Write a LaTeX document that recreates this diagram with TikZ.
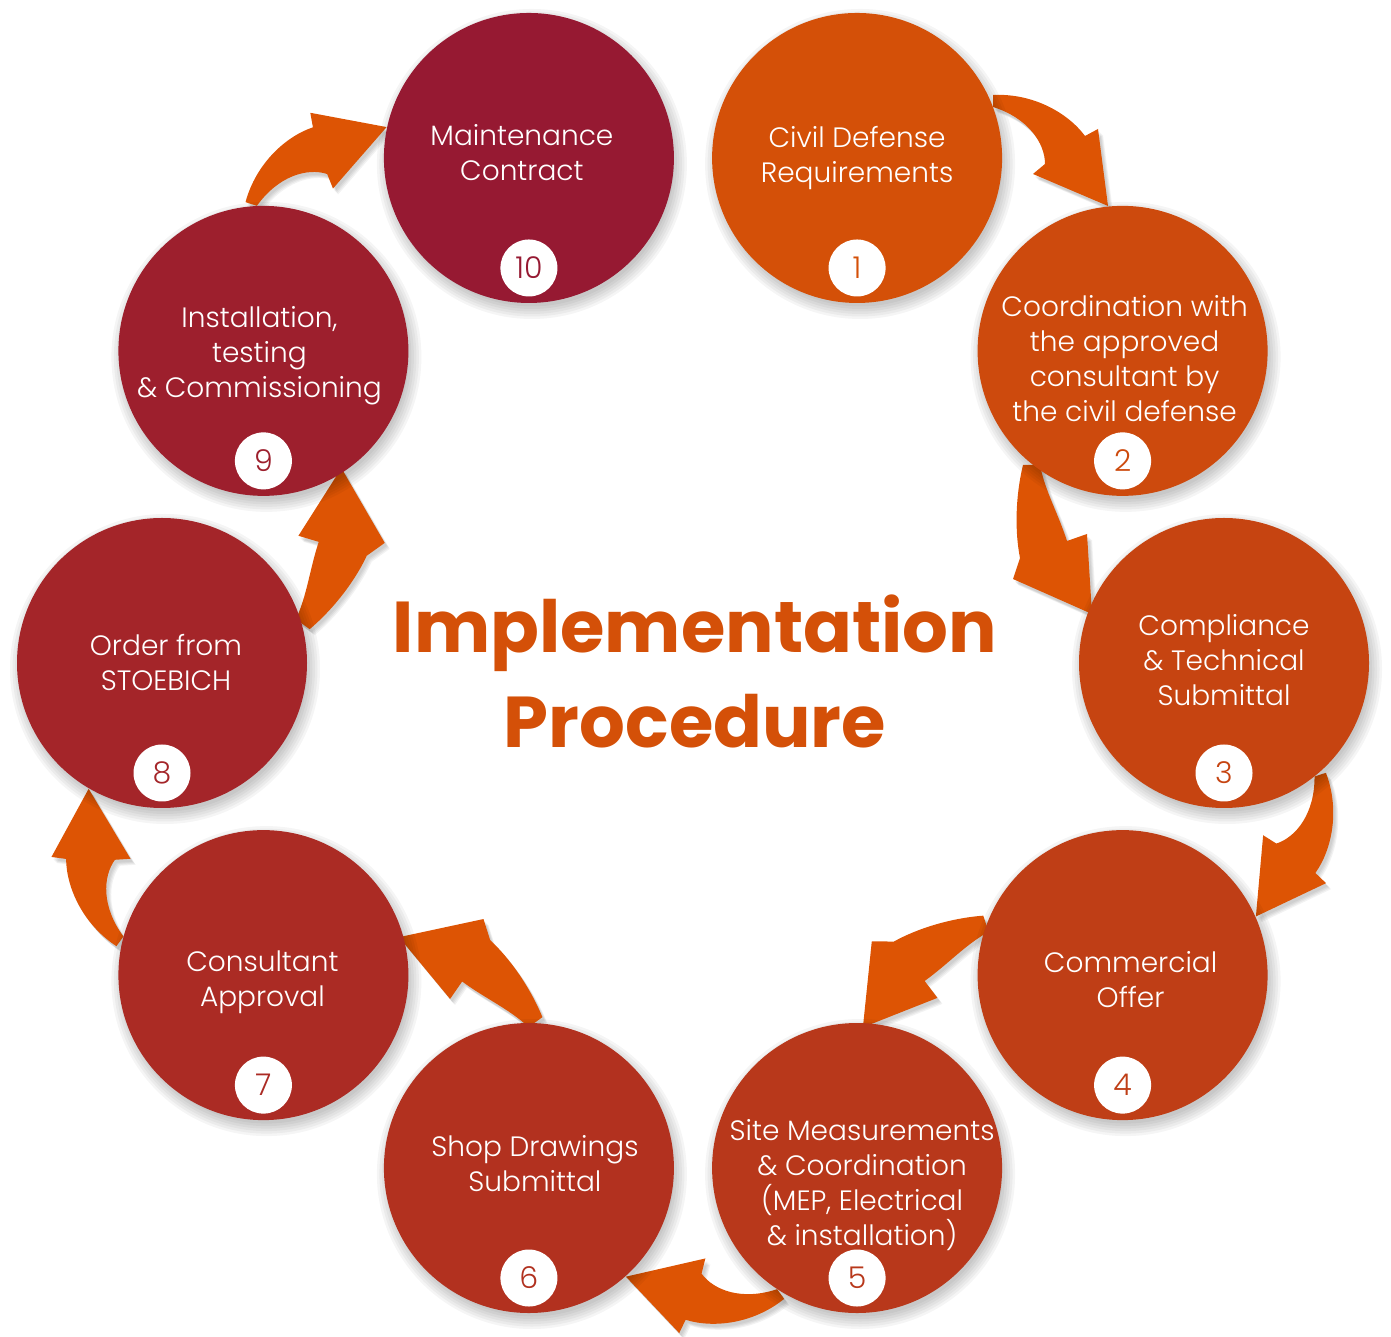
\documentclass[tikz,border=0pt]{standalone}
\usepackage{fontspec}
\setmainfont{Poppins}
\newfontfamily\lightfont{Poppins Light}
\usetikzlibrary{calc}

\definecolor{arrorange}{RGB}{221,84,4}
\definecolor{firstc}{RGB}{212,80,8}
\definecolor{lastc}{RGB}{150,25,50}

\newcommand{\outerarrow}{(300,568) .. controls (340,570) and (375,550) .. (392,527) -- (405,534) -- (415,457) -- (340,489) -- (352,499) .. controls (352,520) and (335,545) .. (300,556) -- cycle}
\newcommand{\innerarrow}{(330,198) .. controls (322,165) and (322,130) .. (327,105) -- (320,84) -- (399,49) -- (394,129) -- (374,122) .. controls (365,150) and (352,172) .. (347,198) -- cycle}

\begin{document}
\begin{tikzpicture}[x=1pt,y=1pt,
  disc/.style={circle,minimum size=290pt,inner sep=0pt},
  badge/.style={circle,fill=white,minimum size=57pt,inner sep=0pt,font=\lightfont\fontsize{30}{30}\selectfont},
  txt/.style={align=center,text=white,font=\lightfont\fontsize{28}{35}\selectfont}]
  \useasboundingbox (0,0) rectangle (1391,1336);
  \coordinate (mid) at (693,673);
  % arrows outside the ring
  \foreach \r in {0,-72,-144,-216,-288} {
    \foreach \k in {1,...,4}
      \fill[black,opacity=0.05,shift={(mid)},shift={(1+\k,-2-\k)},rotate=\r] \outerarrow;
    \fill[arrorange,shift={(mid)},rotate=\r] \outerarrow;
  }
  % arrows inside the ring
  \foreach \r in {0,-72,-144,-216} {
    \foreach \k in {1,...,4}
      \fill[black,opacity=0.05,shift={(mid)},shift={(1+\k,-2-\k)},rotate=\r] \innerarrow;
    \fill[arrorange,shift={(mid)},rotate=\r] \innerarrow;
  }
  % steps
  \foreach \i [evaluate=\i as \ang using 72-36*(\i-1), evaluate=\i as \pc using 100-100*(\i-1)/9] in {1,...,10} {
    \foreach \k in {1,...,6}
      \fill[black,opacity=0.04] ($(mid)+(\ang:531)+(3,-6)$) circle (140+\k*2.5);
    \node[disc,fill=firstc!\pc!lastc] (c\i) at ($(mid)+(\ang:531)$) {};
    \node[badge,text=firstc!\pc!lastc] (n\i) at ($(c\i)+(0,-110)$) {\i};
  }
  % texts
  \foreach \i/\dx/\dy/\t in {
    1/0/0/{Civil Defense\\Requirements},
    2/2/-8/{Coordination with\\the approved\\consultant by\\the civil defense},
    3/0/3/{Compliance\\\& Technical\\Submittal},
    4/8/-4/{Commercial\\Offer},
    5/5/-17/{Site Measurements\\\& Coordination\\(MEP, Electrical\\\& installation)},
    6/6/4/{Shop Drawings\\Submittal},
    7/-1/-7/{Consultant\\Approval},
    8/4/0/{Order from\\STOEBICH},
    9/-4/-5/{Installation,\\testing\\\& Commissioning},
    10/-7/5/{Maintenance\\Contract}}
    \node[txt] (t\i) at ($(c\i)+(\dx,\dy)$) {\t};
  % title
  \node[align=center,text=firstc,font=\fontsize{72}{95}\selectfont\bfseries] (title) at (695,665) {Implementation\\Procedure};
\end{tikzpicture}
\end{document}
